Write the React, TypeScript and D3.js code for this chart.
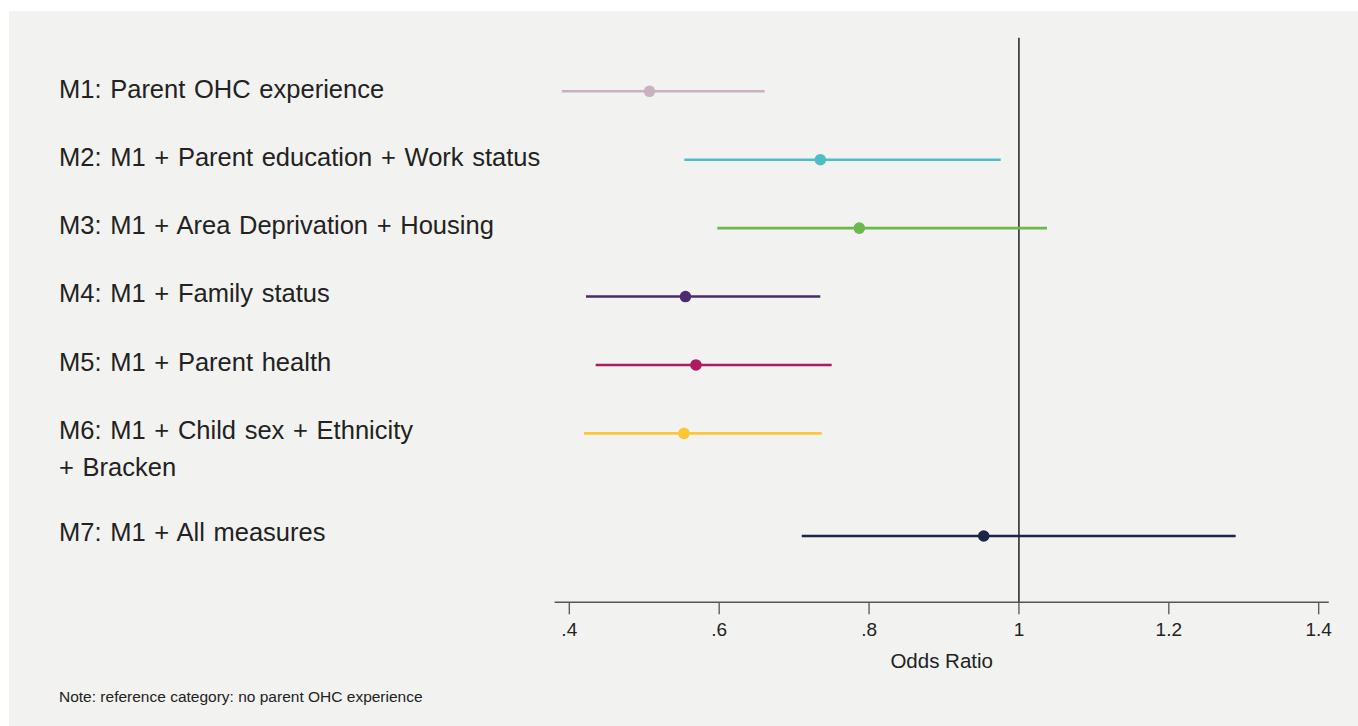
import React from "react";
import * as d3 from "d3";

const models = ["M1", "M2", "M3", "M4", "M5", "M6", "M7"];
const labelLines: string[][] = [
  ["M1: Parent OHC experience"],
  ["M2: M1 + Parent education + Work status"],
  ["M3: M1 + Area Deprivation + Housing"],
  ["M4: M1 + Family status"],
  ["M5: M1 + Parent health"],
  ["M6: M1 + Child sex + Ethnicity", "+ Bracken"],
  ["M7: M1 + All measures"],
];
const rowPos = [1, 2, 3, 4, 5, 6, 7.5];
const oddsRatio = [0.507, 0.735, 0.787, 0.555, 0.569, 0.553, 0.953];
const ciLow = [0.39, 0.5535, 0.5975, 0.4223, 0.4352, 0.4196, 0.7102];
const ciHigh = [0.6607, 0.9757, 1.0374, 0.7349, 0.7501, 0.7368, 1.2892];
const colors = ["#c8b1c1", "#4cbfc6", "#6ab84f", "#4b2a6f", "#ae1a5f", "#fcc736", "#1b2548"];
const tickValues = [0.4, 0.6, 0.8, 1.0, 1.2, 1.4];
const tickLabels = [".4", ".6", ".8", "1", "1.2", "1.4"];
const axisDomain = [0.3804, 1.4134];
const refValue = 1;

const W = 1358;
const H = 726;
const FONT = "'Liberation Sans', Arial, Helvetica, sans-serif";

export default function App() {
  const x = d3.scaleLinear().domain([0.4, 1.4]).range([569.3, 1318.7]);
  const y = d3.scaleLinear().domain([1, 7.5]).range([91.3, 536]);
  const yLabel = d3.scaleLinear().domain([1, 7.5]).range([98, 541]);
  const axisY = 602.3;

  return (
    <div style={{ position: "absolute", left: 0, top: 0, width: W, height: H, overflow: "hidden" }}>
      <svg width={W} height={H} style={{ display: "block" }} fontFamily={FONT}>
        <rect x={0} y={0} width={W} height={H} fill="#ffffff" />
        <rect x={9} y={11} width={W - 9} height={H - 11} fill="#f2f2f0" />

        {/* reference line */}
        <line x1={x(refValue)} x2={x(refValue)} y1={37.7} y2={axisY} stroke="#000" strokeWidth={1.3} />

        {/* axis */}
        <line x1={x(axisDomain[0])} x2={x(axisDomain[1])} y1={axisY} y2={axisY} stroke="#555" strokeWidth={1.5} />
        {tickValues.map((v, i) => (
          <g key={i}>
            <line x1={x(v)} x2={x(v)} y1={axisY} y2={axisY + 12} stroke="#555" strokeWidth={1.3} />
            <text x={x(v)} y={635.5} textAnchor="middle" fontSize={19} fill="#222">
              {tickLabels[i]}
            </text>
          </g>
        ))}
        <text x={(x(axisDomain[0]) + x(axisDomain[1])) / 2} y={668} textAnchor="middle" fontSize={20.5} fill="#222">
          Odds Ratio
        </text>

        {/* labels */}
        {labelLines.map((lines, i) => (
          <text key={i} x={59} y={yLabel(rowPos[i])} fontSize={25.5} fill="#222" wordSpacing={1.6}>
            {lines.map((ln, j) => (
              <tspan key={j} x={59} dy={j === 0 ? 0 : 37}>
                {ln}
              </tspan>
            ))}
          </text>
        ))}

        {/* estimates */}
        {models.map((m, i) => (
          <g key={m}>
            <line
              x1={x(ciLow[i])}
              x2={x(ciHigh[i])}
              y1={y(rowPos[i])}
              y2={y(rowPos[i])}
              stroke={colors[i]}
              strokeWidth={2.6}
            />
            <circle cx={x(oddsRatio[i])} cy={y(rowPos[i])} r={5.8} fill={colors[i]} />
          </g>
        ))}

        <text x={59} y={702} fontSize={15.5} fill="#222">
          Note: reference category: no parent OHC experience
        </text>
      </svg>
    </div>
  );
}
